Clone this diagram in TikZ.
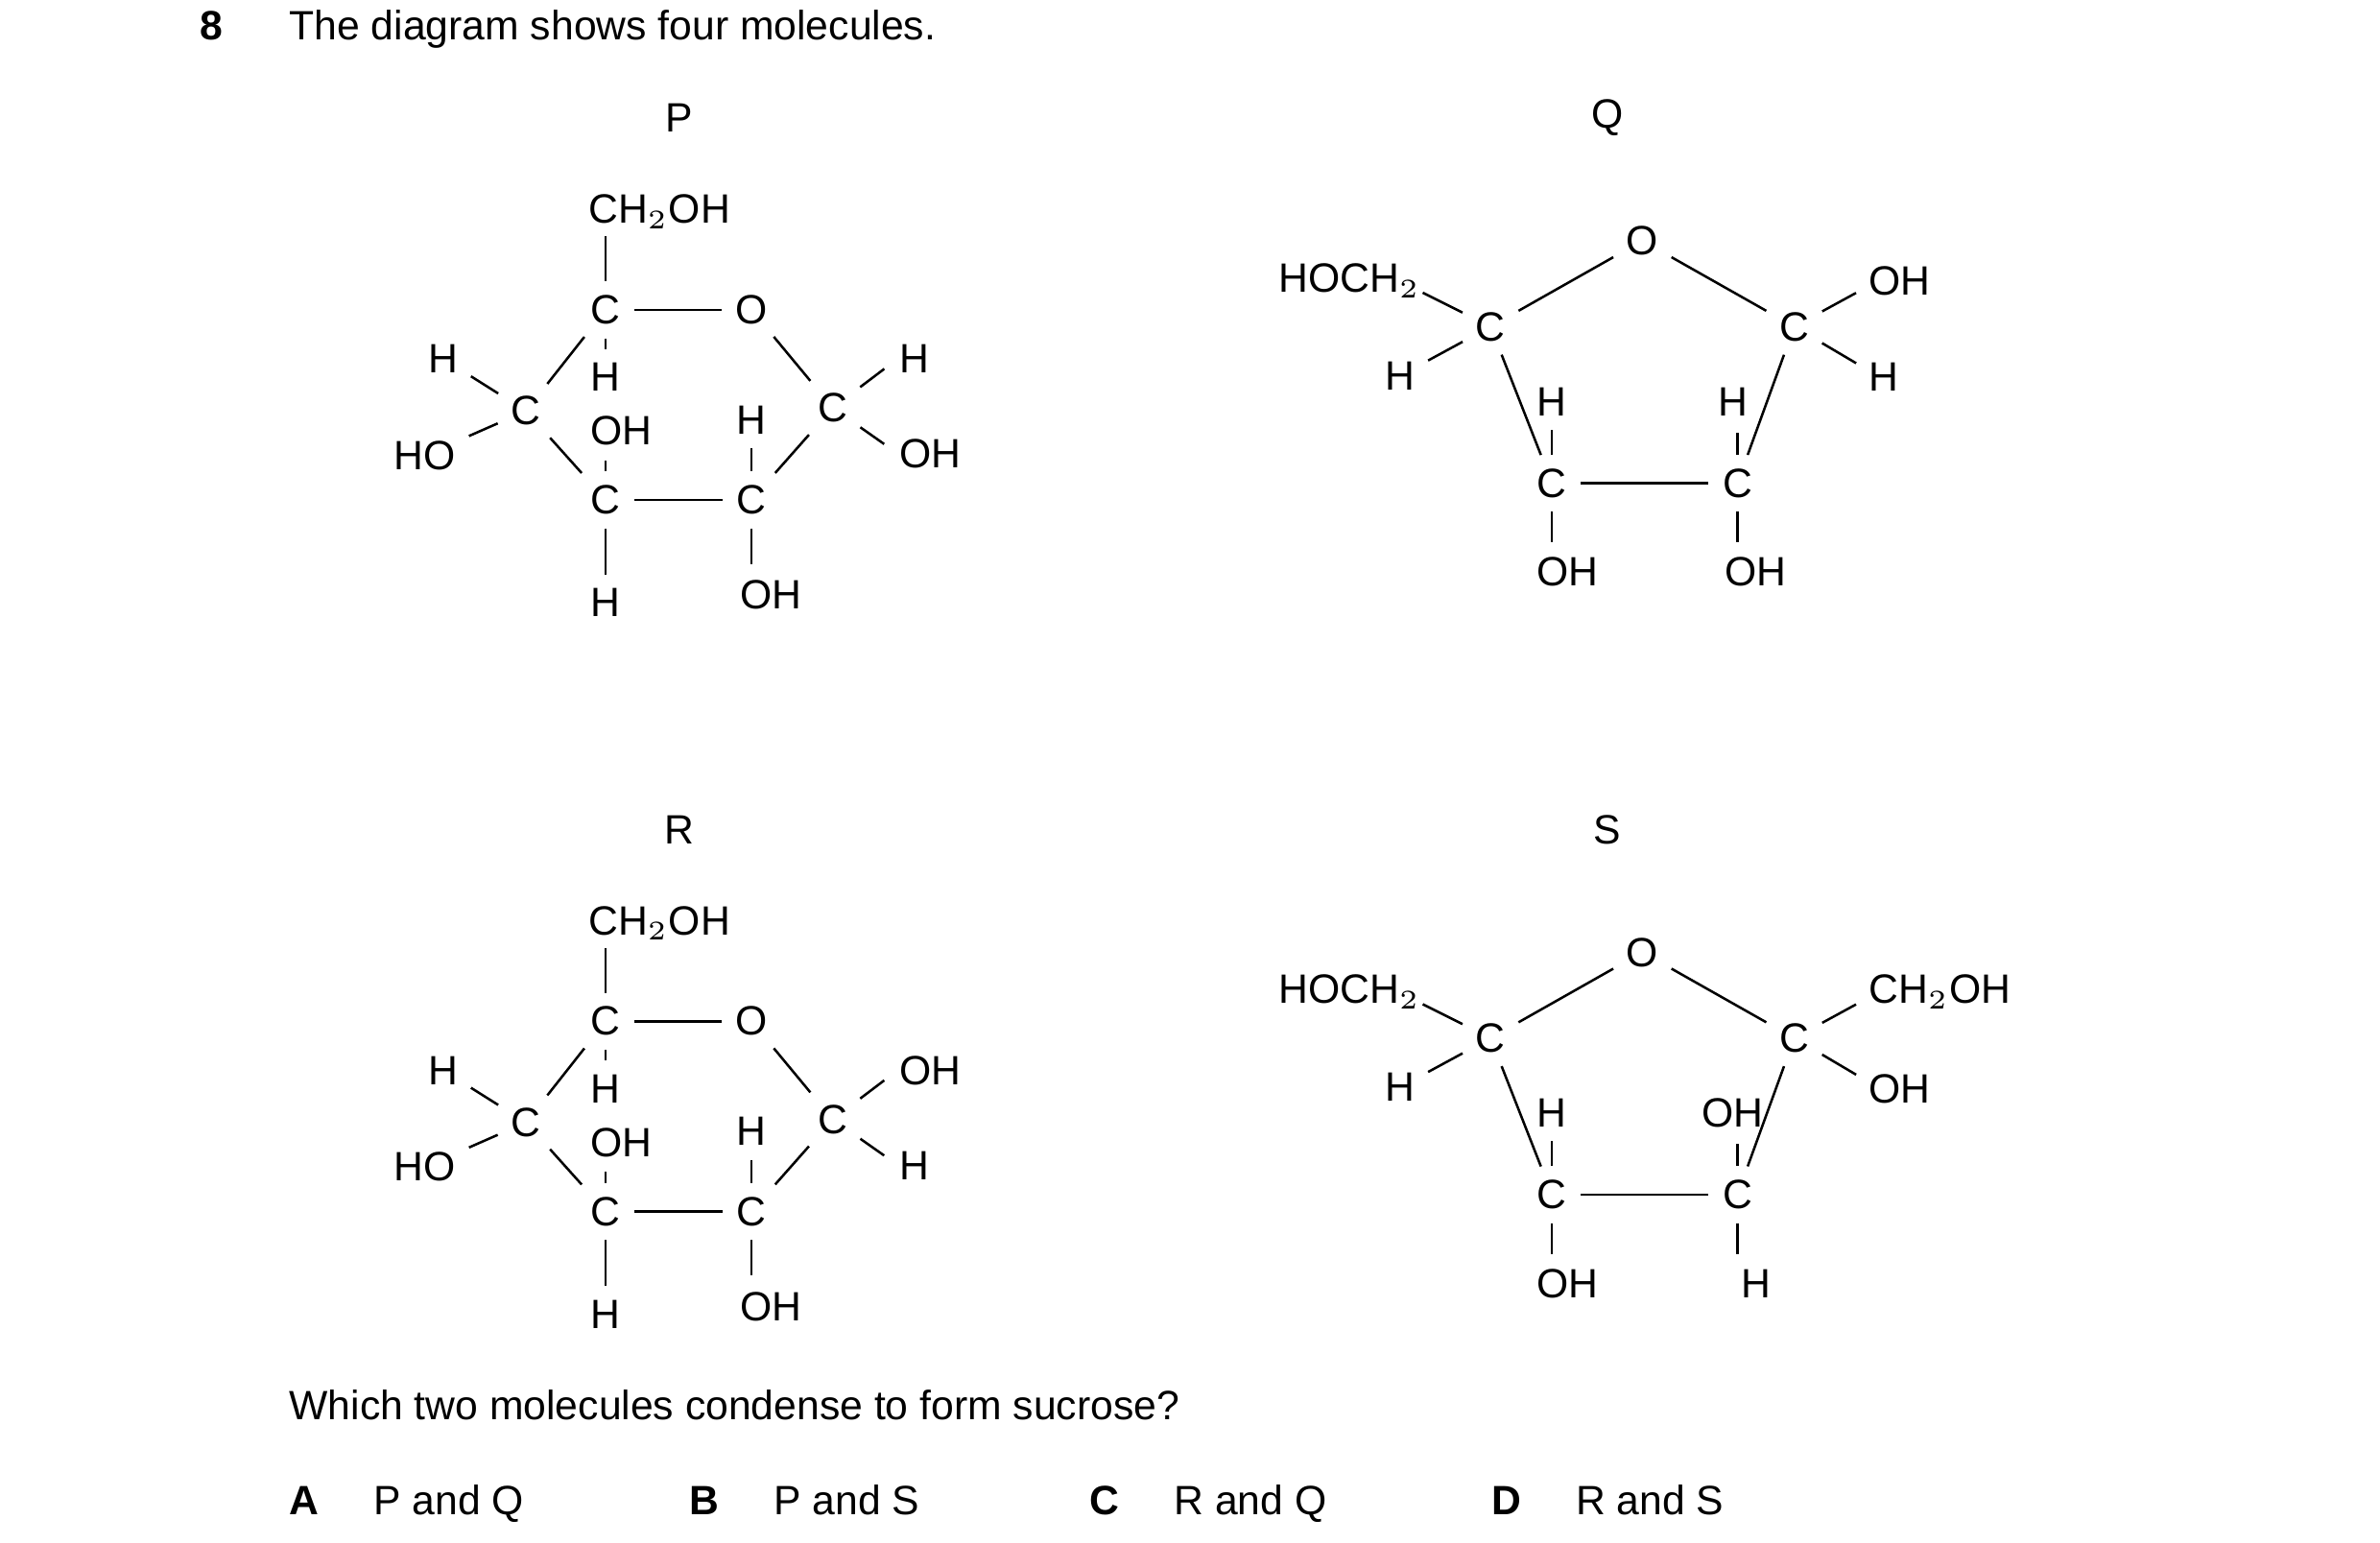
\documentclass[tikz,border=0pt]{standalone}
\usepackage{fontspec}
\setmainfont{Liberation Sans}
\begin{document}
\begin{tikzpicture}[x=0.1mm,y=-0.1mm,
  atm/.style={inner sep=1.2pt,font=\fontsize{7.6}{9}\selectfont},
  tx/.style={anchor=west,inner sep=0pt,font=\fontsize{7.6}{9}\selectfont},
  bx/.style={anchor=base west,inner sep=0pt,font=\fontsize{7.6}{9}\selectfont},
  bd/.style={line width=0.45pt,shorten <=1.2pt,shorten >=1.2pt}]
\useasboundingbox (0,0) rectangle (1552,1006);
\node[bx,font=\fontsize{7.6}{9}\selectfont\bfseries] (n8) at (130,26) {8};
\node[bx] (title) at (188,26) {The diagram shows four molecules.};
% hexose rings
\foreach \p/\dy/\lab/\tr/\br in {P/0/P/H/OH, R/464/R/OH/H}{
 \begin{scope}[yshift={-\dy*0.1mm}]
  \node[atm] (\p lab) at (443,77) {\lab};
  \node[atm] (\p ch) at (430,138) {CH$_2$OH};
  \coordinate (\p chc) at (395,150);
  \node[atm] (\p c1) at (395,202) {C};
  \node[atm] (\p o) at (490,202) {O};
  \node[atm] (\p h1) at (395,246) {H};
  \node[atm] (\p c2) at (543,266) {C};
  \node[tx] (\p tr) at (586,234) {\tr};
  \node[tx] (\p br) at (586,296) {\br};
  \coordinate (\p trc) at (580,238);
  \coordinate (\p brc) at (580,292);
  \node[atm] (\p c3) at (490,326) {C};
  \node[atm] (\p h3) at (490,274) {H};
  \node[atm] (\p oh3) at (503,388) {OH};
  \coordinate (\p oh3c) at (490,372);
  \node[atm] (\p c4) at (395,326) {C};
  \node[atm] (\p oh4) at (405,281) {OH};
  \coordinate (\p oh4c) at (395,296);
  \node[atm] (\p h4) at (395,393) {H};
  \node[atm] (\p c5) at (343,268) {C};
  \node[atm] (\p h5) at (289,234) {H};
  \node[atm] (\p ho5) at (277,297) {HO};
  \draw[bd] (\p chc) -- (\p c1);
  \draw[bd] (\p c1) -- (\p o);
  \draw[bd] (\p c1) -- (\p h1);
  \draw[bd] (\p o) -- (\p c2);
  \draw[bd] (\p c2) -- (\p trc);
  \draw[bd] (\p c2) -- (\p brc);
  \draw[bd] (\p c2) -- (\p c3);
  \draw[bd] (\p c3) -- (\p h3);
  \draw[bd] (\p c3) -- (\p oh3c);
  \draw[bd] (\p c3) -- (\p c4);
  \draw[bd] (\p c4) -- (\p oh4c);
  \draw[bd] (\p c4) -- (\p h4);
  \draw[bd] (\p c5) -- (\p c1);
  \draw[bd] (\p c5) -- (\p c4);
  \draw[bd] (\p c5) -- (\p h5);
  \draw[bd] (\p c5) -- (\p ho5);
 \end{scope}}
% fructose rings
\foreach \p/\dy/\lab/\tr/\br/\la/\lb/\ra/\rb in {Q/0/Q/OH/H/H/OH/H/OH, S/464/S/CH$_2$OH/OH/H/OH/OH/H}{
 \begin{scope}[yshift={-\dy*0.1mm}]
  \node[atm] (\p lab) at (1048,77) {\lab};
  \node[atm] (\p o) at (1071,157) {O};
  \node[atm] (\p c1) at (972,213) {C};
  \node[atm] (\p c2) at (1170,213) {C};
  \node[atm] (\p hoch) at (880,183) {HOCH$_2$};
  \coordinate (\p hochc) at (924,189);
  \node[atm] (\p h1) at (913,245) {H};
  \node[tx] (\p tr) at (1218,183) {\tr};
  \coordinate (\p trc) at (1214,189);
  \node[tx] (\p br) at (1218,246) {\br};
  \coordinate (\p brc) at (1214,239);
  \node[atm] (\p c3) at (1012,315) {C};
  \node[atm] (\p c4) at (1133,315) {C};
  \node[atm] (\p la) at (1012,262) {\la};
  \node[atm] (\p lb) at (1022,373) {\lb};
  \coordinate (\p lbc) at (1012,358);
  \node[atm] (\p ra) at (1130,262) {\ra};
  \node[atm] (\p rb) at (1145,373) {\rb};
  \coordinate (\p rbc) at (1133,358);
  \coordinate (\p rac) at (1133,278);
  \draw[bd] (\p c1) -- (\p o);
  \draw[bd] (\p o) -- (\p c2);
  \draw[bd] (\p hochc) -- (\p c1);
  \draw[bd] (\p h1) -- (\p c1);
  \draw[bd] (\p c2) -- (\p trc);
  \draw[bd] (\p c2) -- (\p brc);
  \draw[bd] (\p c1) -- (\p c3);
  \draw[bd] (\p c2) -- (\p c4);
  \draw[bd] (\p c3) -- (\p c4);
  \draw[bd] (\p c3) -- (\p la);
  \draw[bd] (\p c3) -- (\p lbc);
  \draw[bd] (\p c4) -- (\p rac);
  \draw[bd] (\p c4) -- (\p rbc);
 \end{scope}}
\node[bx] (q) at (188,926) {Which two molecules condense to form sucrose?};
\foreach \k/\x/\t in {A/188/P and Q, B/449/P and S, C/710/R and Q, D/972/R and S}{
  \node[bx,font=\fontsize{7.6}{9}\selectfont\bfseries] (opt\k) at (\x,988) {\k};
  \node[bx] (txt\k) at (\x+55,988) {\t};
}
\end{tikzpicture}
\end{document}
